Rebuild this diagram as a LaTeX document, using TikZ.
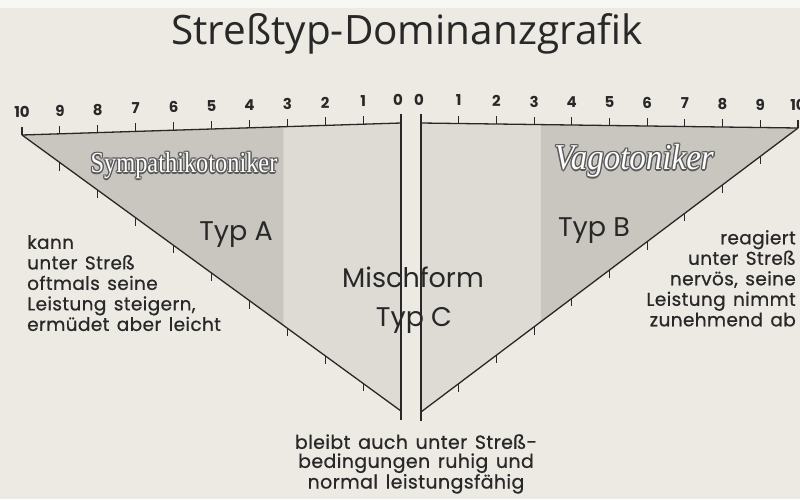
\documentclass[tikz,border=0pt]{standalone}
\usepackage{fontspec}
\setmainfont{Poppins}
\newfontfamily\titlefont{Open Sans}
\newfontfamily\sympfont{Liberation Serif}
\newfontfamily\bodyfont[LetterSpace=2,FakeBold=0.6,WordSpace=1.3]{Poppins}
\newfontfamily\bottomfont[LetterSpace=2,FakeBold=0.6,WordSpace=1.4]{Poppins}
\usetikzlibrary{calc}
\definecolor{bgc}{RGB}{236,234,227}
\definecolor{darkshade}{RGB}{200,198,191}
\definecolor{lightshade}{RGB}{221,219,212}
\definecolor{ink}{RGB}{40,40,40}
\definecolor{outl}{RGB}{90,90,90}
\tikzset{
  edge/.style={draw=ink, line width=1.3pt},
  tickmark/.style={draw=ink, line width=1.1pt},
  num/.style={font=\bfseries\fontsize{15}{15}\selectfont, text=ink, inner sep=0pt},
  body/.style={font=\bodyfont\fontsize{18.5}{20.5}\selectfont, text=ink, inner sep=0pt},
  big/.style={font=\fontsize{27}{27}\selectfont, text=ink, inner sep=0pt},
  sympstyle/.style={font=\sympfont\fontsize{29}{29}\selectfont, inner sep=0pt, xscale=0.84},
  vagostyle/.style={font=\sympfont\itshape\fontsize{33}{33}\selectfont, inner sep=0pt, yscale=1.1},
}
\begin{document}
\begin{tikzpicture}[x=1pt,y=-1pt]
\useasboundingbox (0,0) rectangle (800,499);
\fill[bgc] (0,0) rectangle (800,499);
\fill[white!60!bgc] (0,0) rectangle (800,8);
% key points
\coordinate (A) at (22,135);
\coordinate (O1) at (401,123);
\coordinate (B1) at (401,411);
\coordinate (O2) at (421,123);
\coordinate (C) at (798,128);
\coordinate (B2) at (421,412);
\coordinate (L1) at ($(A)!0.69!(O1)$);
\coordinate (L2) at ($(A)!0.69!(B1)$);
\coordinate (R1) at ($(O2)!0.318!(C)$);
\coordinate (R2) at ($(B2)!0.318!(C)$);
% shading
\fill[lightshade] (L1) -- (O1) -- (B1) -- (L2) -- cycle;
\fill[darkshade] (A) -- (L1) -- (L2) -- cycle;
\fill[lightshade] (O2) -- (R1) -- (R2) -- (B2) -- cycle;
\fill[darkshade] (R1) -- (C) -- (R2) -- cycle;
% edges
\coordinate (V1t) at (401,114);
\coordinate (V1b) at (401,420);
\coordinate (V2t) at (421,114);
\coordinate (V2b) at (421,421);
\draw[edge] (A) -- (O1);
\draw[edge] (A) -- (B1);
\draw[edge] (V1t) -- (V1b);
\draw[edge] (O2) -- (C);
\draw[edge] (B2) -- (C);
\draw[edge] (V2t) -- (V2b);
% ticks and numbers
\foreach \i in {0,...,9}{
  \pgfmathtruncatemacro{\lab}{10-\i}
  \coordinate (tl\i) at ($(A)!\i/10!(O1)$);
  \draw[tickmark] (tl\i) -- ++(0,-8);
  \node[num] (nl\i) at ($(tl\i)+(0,-23)$) {\lab};
}
\node[num] (nl10) at ($(O1)+(-3,-23)$) {0};
\foreach \i in {1,...,10}{
  \coordinate (tr\i) at ($(O2)!\i/10!(C)$);
  \draw[tickmark] (tr\i) -- ++(0,-8);
  \node[num] (nr\i) at ($(tr\i)+(0,-23)$) {\i};
}
\node[num] (nr0) at ($(O2)+(-2,-23)$) {0};
\foreach \i in {1,...,9}{
  \coordinate (hl\i) at ($(A)!\i/10!(B1)$);
  \draw[tickmark] (hl\i) -- ++(0,8);
  \coordinate (hr\i) at ($(B2)!\i/10!(C)$);
  \draw[tickmark] (hr\i) -- ++(0,8);
}
% title
\node[font=\titlefont\fontsize{40.5}{40.5}\selectfont, text=ink, inner sep=0pt] (title) at (407,34) {Streßtyp-Dominanzgrafik};
% outlined labels
\coordinate (sp) at (184,166);
\coordinate (vp) at (634,161);
\foreach \dx/\dy in {-1.3/0,1.3/0,0/-1.3,0/1.3,-1/-1,1/1,-1/1,1/-1}{
  \node[sympstyle, text=outl] at ($(sp)+(\dx,\dy)$) {Sympathikotoniker};
  \node[vagostyle, text=outl] at ($(vp)+(\dx,\dy)$) {Vagotoniker};
}
\node[sympstyle, text=white!92!bgc] (symp) at (sp) {Sympathikotoniker};
\node[vagostyle, text=white!92!bgc] (vago) at (vp) {Vagotoniker};
% type labels
\node[big] (typA) at (236,235) {Typ A};
\node[big] (typB) at (594,231) {Typ B};
\node[big] (misch) at (413,277) {Mischform};
\node[big] (typC) at (414,320) {Typ C};
% descriptions
\node[body, anchor=north west, align=left] (descA) at (27,235) {kann\\unter Streß\\oftmals seine\\Leistung steigern,\\ermüdet aber leicht};
\node[body, anchor=north east, align=right] (descB) at (796,230) {reagiert\\unter Streß\\nervös, seine\\Leistung nimmt\\zunehmend ab};
\node[body, anchor=north, align=center, font=\bottomfont\fontsize{19}{19}\selectfont] (descC) at (416,434) {bleibt auch unter Streß-\\bedingungen ruhig und\\normal leistungsfähig};
\end{tikzpicture}
\end{document}
